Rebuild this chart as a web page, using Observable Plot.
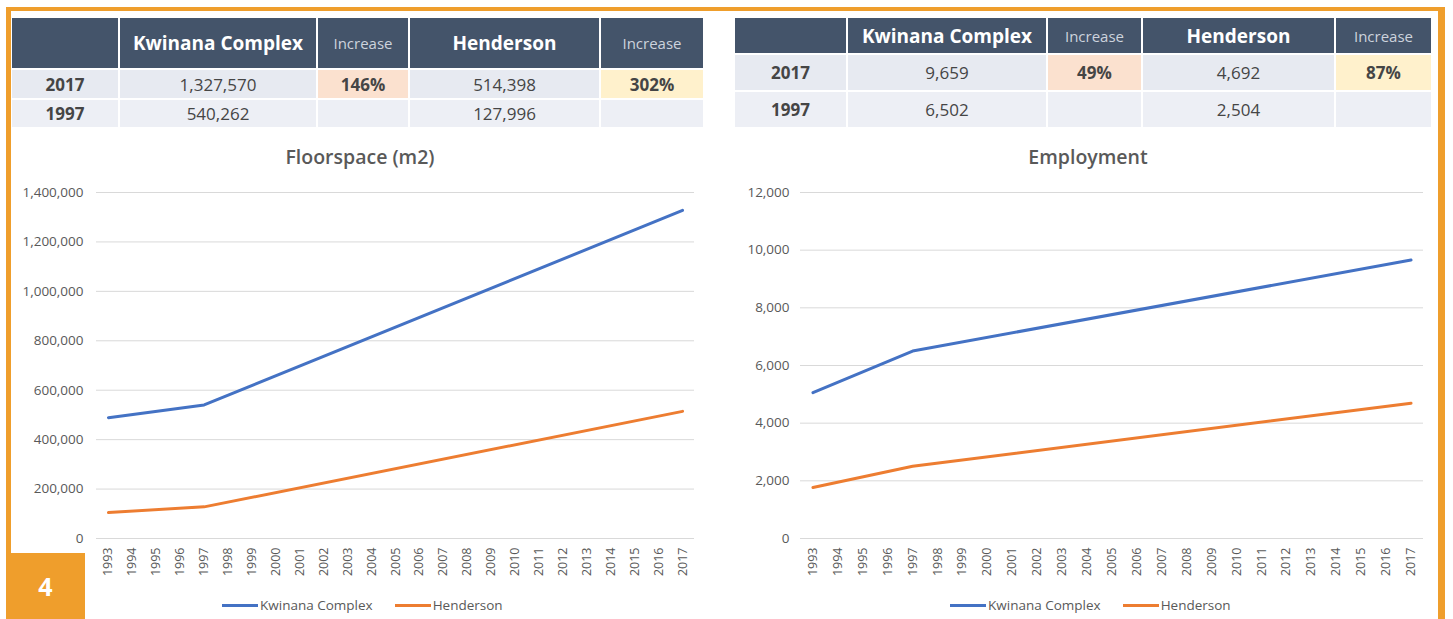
<!DOCTYPE html>
<html>
<head>
<meta charset="utf-8">
<script src="https://cdn.jsdelivr.net/npm/d3@7"></script>
<script src="https://cdn.jsdelivr.net/npm/@observablehq/plot@0.6"></script>
<style>
  html, body { margin: 0; padding: 0; background: #ffffff; }
  body { width: 1453px; height: 619px; position: relative; overflow: hidden; font-family: "Open Sans", sans-serif; }
  .frame { position: absolute; left: 6px; top: 7px; width: 1427px; height: 640px;
           border-top: 4px solid #EF9E2C; border-left: 5px solid #EF9E2C; border-right: 7px solid #EF9E2C; }
  .badge { position: absolute; left: 6px; top: 553px; width: 79px; height: 66px; background: #EF9E2C;
           color: #fff; font-weight: 700; font-size: 25px; display: flex; align-items: center; justify-content: center; }
  .tbl { position: absolute; display: grid; gap: 2px; }
  .tbl div { display: flex; align-items: center; justify-content: center; color: #454545; font-size: 17px; }
  .tbl .h { background: #44546A; color: #ffffff; font-weight: 700; font-size: 19px; }
  .tbl .hi { background: #44546A; color: #cdd3dd; font-size: 15px; }
  .tbl .r1 { background: #E7EAF1; }
  .tbl .r2 { background: #EDEFF5; }
  .tbl .b { font-weight: 700; }
  .tbl .peach { background: #FBE1CF; font-weight: 700; }
  .tbl .yel { background: #FFF1CC; font-weight: 700; }
  .title { position: absolute; width: 400px; text-align: center; font-size: 19.5px; font-weight: 600; color: #595959; }
  .chart { position: absolute; }
  .legend { position: absolute; display: flex; align-items: center; font-size: 13.5px; color: #595959; }
  .legend .sw { display: inline-block; width: 36px; height: 3px; margin-right: 2px; }
  .legend .item { display: flex; align-items: center; margin-right: 22px; }
</style>
</head>
<body>
<div class="frame"></div>
<div class="badge">4</div>
<div id="t1" class="tbl" style="left:12px; top:18px; grid-template-columns:106px 196px 90px 189px 102px; grid-template-rows:50px 28px 27px;"></div>
<div id="t2" class="tbl" style="left:735px; top:18px; grid-template-columns:111px 198px 93px 191px 95px; grid-template-rows:35px 35px 35px;"></div>
<div class="title" style="left:160px; top:143px;">Floorspace (m2)</div>
<div class="title" style="left:888px; top:143px;">Employment</div>
<div id="c1" class="chart" style="left:0px; top:170px;"></div>
<div id="c2" class="chart" style="left:712px; top:170px;"></div>
<div id="l1" class="legend" style="left:222px; top:596px;"></div>
<div id="l2" class="legend" style="left:950px; top:596px;"></div>
<script>
// ---- data ----
const seriesNames = ["Kwinana Complex", "Henderson"];
const seriesColors = ["#4472C4", "#ED7D31"];
const years = [1993, 1994, 1995, 1996, 1997, 1998, 1999, 2000, 2001, 2002, 2003, 2004, 2005,
               2006, 2007, 2008, 2009, 2010, 2011, 2012, 2013, 2014, 2015, 2016, 2017];
const pointYears = [1993, 1997, 2017];
const floorKwinana = [489000, 540262, 1327570];
const floorHenderson = [105000, 127996, 514398];
const empKwinana = [5060, 6502, 9659];
const empHenderson = [1770, 2504, 4692];
const floorTicks = [0, 200000, 400000, 600000, 800000, 1000000, 1200000, 1400000];
const empTicks = [0, 2000, 4000, 6000, 8000, 10000, 12000];

const tableColumns = ["", "Kwinana Complex", "Increase", "Henderson", "Increase"];
const floorTableRows = [
  ["2017", "1,327,570", "146%", "514,398", "302%"],
  ["1997", "540,262", "", "127,996", ""]
];
const empTableRows = [
  ["2017", "9,659", "49%", "4,692", "87%"],
  ["1997", "6,502", "", "2,504", ""]
];

// ---- tables ----
function buildTable(el, rows) {
  tableColumns.forEach((c, i) => {
    const d = document.createElement("div");
    d.className = (i === 2 || i === 4) ? "hi" : "h";
    d.textContent = c;
    el.appendChild(d);
  });
  rows.forEach((r, ri) => {
    r.forEach((v, i) => {
      const d = document.createElement("div");
      let cls = ri === 0 ? "r1" : "r2";
      if (i === 0) cls += " b";
      if (ri === 0 && i === 2) cls = "peach";
      if (ri === 0 && i === 4) cls = "yel";
      d.className = cls;
      d.textContent = v;
      el.appendChild(d);
    });
  });
}
buildTable(document.getElementById("t1"), floorTableRows);
buildTable(document.getElementById("t2"), empTableRows);

// ---- charts ----
function toRows(a, b) {
  return [
    ...pointYears.map((y, i) => ({year: y, value: a[i], series: seriesNames[0]})),
    ...pointYears.map((y, i) => ({year: y, value: b[i], series: seriesNames[1]}))
  ];
}
function makeChart(data, ticks, opts) {
  return Plot.plot({
    width: opts.width, height: 420,
    marginLeft: opts.marginLeft, marginRight: opts.marginRight, marginTop: 22, marginBottom: 52,
    style: {fontFamily: "Open Sans", fontSize: "13.5px", color: "#595959", background: "transparent", overflow: "visible"},
    x: {type: "point", domain: years, padding: 0.5, round: false},
    y: {domain: [0, ticks[ticks.length - 1]]},
    color: {domain: seriesNames, range: seriesColors},
    marks: [
      Plot.gridY(ticks, {stroke: "#D9D9D9", strokeOpacity: 1}),
      Plot.ruleY([0], {stroke: "#D9D9D9"}),
      Plot.axisY(ticks, {tickSize: 0, tickPadding: opts.tickPadding, tickFormat: d3.format(","), label: null}),
      Plot.axisX(years, {tickSize: 0, tickPadding: 9, tickRotate: -90, tickFormat: d => String(d), label: null, fontSize: 12.5}),
      Plot.line(data, {x: "year", y: "value", z: "series", stroke: "series", strokeWidth: 3})
    ]
  });
}
document.getElementById("c1").appendChild(
  makeChart(toRows(floorKwinana, floorHenderson), floorTicks, {width: 712, marginLeft: 96, marginRight: 18, tickPadding: 13}));
document.getElementById("c2").appendChild(
  makeChart(toRows(empKwinana, empHenderson), empTicks, {width: 740, marginLeft: 88, marginRight: 29, tickPadding: 11}));

// ---- legends ----
function buildLegend(el) {
  seriesNames.forEach((s, i) => {
    const it = document.createElement("span");
    it.className = "item";
    const sw = document.createElement("span");
    sw.className = "sw";
    sw.style.background = seriesColors[i];
    const tx = document.createElement("span");
    tx.textContent = s;
    it.appendChild(sw); it.appendChild(tx);
    el.appendChild(it);
  });
}
buildLegend(document.getElementById("l1"));
buildLegend(document.getElementById("l2"));
</script>
</body>
</html>
